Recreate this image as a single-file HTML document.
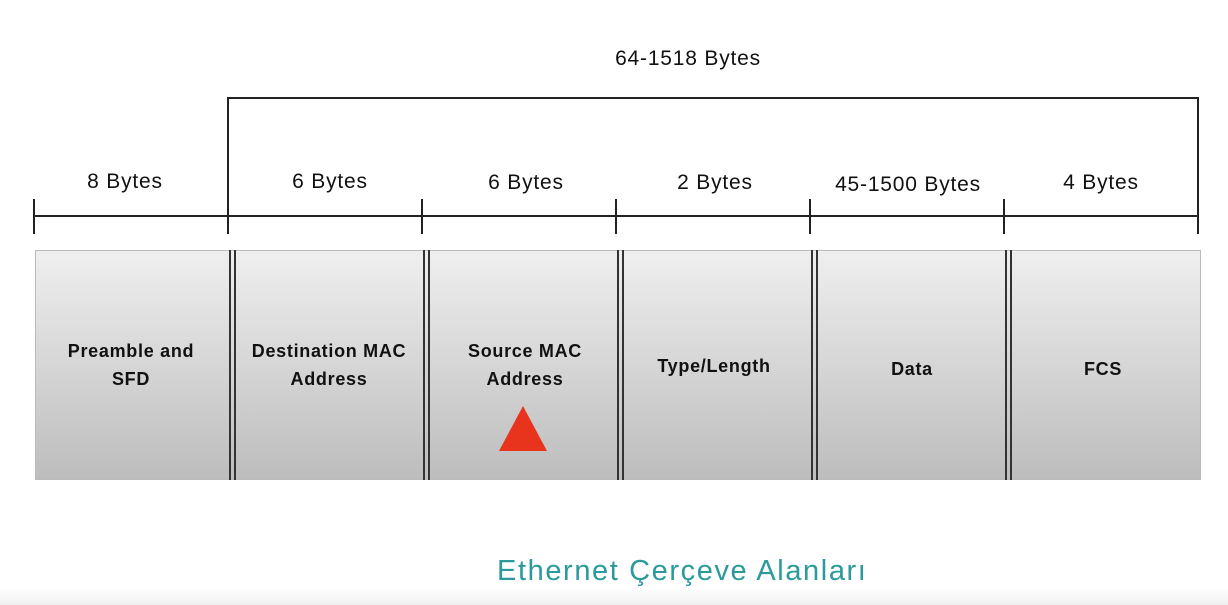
<!DOCTYPE html>
<html><head><meta charset="utf-8"><style>
body{margin:0;width:1228px;height:605px;background:#fff;overflow:hidden;position:relative;font-family:"Liberation Sans",sans-serif}
.l{position:absolute;background:#222}
.t{position:absolute;font-size:21px;letter-spacing:0.8px;color:#111;text-align:center;width:194px}
.box{position:absolute;top:250px;height:230px;background:linear-gradient(#efefef,#d6d6d6 50%,#bdbdbd);border:1px solid #bbb;box-sizing:border-box}
.bt{position:absolute;top:250px;height:230px;display:flex;align-items:center;justify-content:center;text-align:center;font-weight:bold;font-size:18px;letter-spacing:0.7px;color:#111;line-height:28px;width:194px;white-space:nowrap}
.d{position:absolute;top:250px;height:230px;width:2px;background:#333}
</style></head><body>
<div class="t" style="left:588px;top:47px;width:200px">64-1518 Bytes</div>
<div class="l" style="left:228px;top:97px;width:971px;height:2px"></div>
<div class="l" style="left:227px;top:97px;width:2px;height:137px"></div>
<div class="l" style="left:1197px;top:97px;width:2px;height:137px"></div>
<div class="l" style="left:34px;top:215px;width:1165px;height:2px"></div>
<div class="l" style="left:33px;top:199px;width:2px;height:35px"></div>
<div class="l" style="left:421px;top:199px;width:2px;height:35px"></div>
<div class="l" style="left:615px;top:199px;width:2px;height:35px"></div>
<div class="l" style="left:809px;top:199px;width:2px;height:35px"></div>
<div class="l" style="left:1003px;top:199px;width:2px;height:35px"></div>
<div class="t" style="left:28px;top:170px">8 Bytes</div>
<div class="t" style="left:233px;top:170px">6 Bytes</div>
<div class="t" style="left:429px;top:171px">6 Bytes</div>
<div class="t" style="left:618px;top:171px">2 Bytes</div>
<div class="t" style="left:808px;top:173px;width:200px">45-1500 Bytes</div>
<div class="t" style="left:1004px;top:171px">4 Bytes</div>
<div class="box" style="left:35px;width:1166px"></div>
<div class="d" style="left:229px"></div><div class="d" style="left:234px"></div>
<div class="d" style="left:423px"></div><div class="d" style="left:428px"></div>
<div class="d" style="left:617px"></div><div class="d" style="left:622px"></div>
<div class="d" style="left:811px"></div><div class="d" style="left:816px"></div>
<div class="d" style="left:1005px"></div><div class="d" style="left:1010px"></div>
<div class="bt" style="left:34px">Preamble and<br>SFD</div>
<div class="bt" style="left:232px">Destination MAC<br>Address</div>
<div class="bt" style="left:428px">Source MAC<br>Address</div>
<div class="bt" style="left:617px;top:251px">Type/Length</div>
<div class="bt" style="left:815px;top:254px">Data</div>
<div class="bt" style="left:1006px;top:254px">FCS</div>
<svg style="position:absolute;left:498px;top:406px" width="50" height="46"><polygon points="25,0 49,45 1,45" fill="#e8341c"/></svg>
<div style="position:absolute;left:0;top:588px;width:1228px;height:17px;background:linear-gradient(#fff,#f0f0f0)"></div>
<div style="position:absolute;left:497px;top:555px;font-size:29px;letter-spacing:1.6px;color:#2a9a9c;white-space:nowrap">Ethernet Çerçeve Alanları</div>
</body></html>
